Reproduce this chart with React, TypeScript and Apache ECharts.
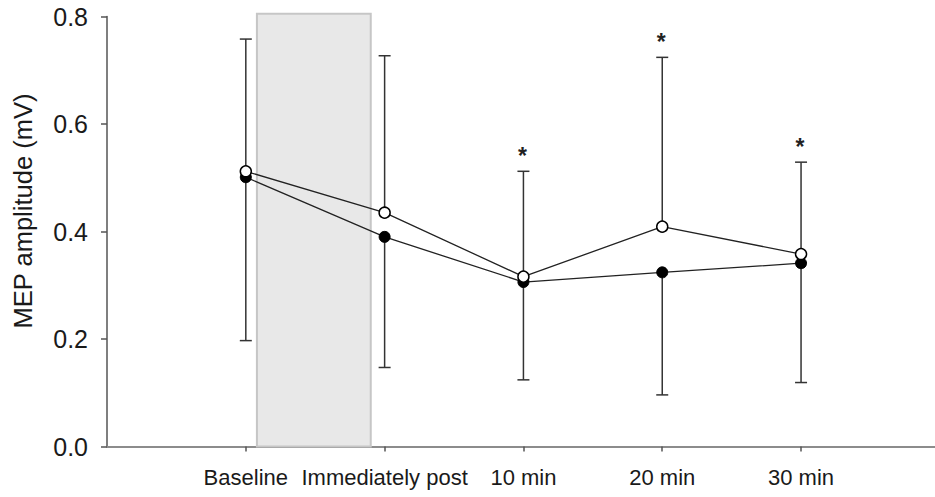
import React, { useEffect, useRef } from "react";
import * as echarts from "echarts";

const categories = ["Baseline", "Immediately post", "10 min", "20 min", "30 min"];
const filledMean = [0.501, 0.39, 0.306, 0.324, 0.341];
const openMean = [0.512, 0.435, 0.316, 0.409, 0.358];
const openUpper = [0.758, 0.727, 0.512, 0.724, 0.529];
const filledLower = [0.197, 0.147, 0.124, 0.096, 0.119];
const significance = ["", "", "*", "*", "*"];
const shadedBand = [1.08, 1.9];
const shadedTop = 0.805;
const yAxisTitle = "MEP amplitude (mV)";

const FONT = "'Liberation Sans', Arial, sans-serif";

export default function App() {
  const ref = useRef<HTMLDivElement>(null);

  useEffect(() => {
    if (!ref.current) return;
    const chart = echarts.init(ref.current, undefined, { renderer: "svg" });
    const xs = categories.map((_, i) => i + 1);

    const errorRender = (params: any, api: any) => {
      const x = api.value(0);
      const p0 = api.coord([x, api.value(1)]);
      const p1 = api.coord([x, api.value(2)]);
      const cap = 6;
      const style = { stroke: "#333", lineWidth: 1.5 };
      return {
        type: "group",
        children: [
          { type: "line", shape: { x1: p0[0], y1: p0[1], x2: p1[0], y2: p1[1] }, style },
          { type: "line", shape: { x1: p1[0] - cap, y1: p1[1], x2: p1[0] + cap, y2: p1[1] }, style },
        ],
      };
    };

    const sigIdx = significance.map((s, i) => (s ? i : -1)).filter((i) => i >= 0);

    chart.setOption({
      animation: false,
      grid: { left: 107, top: 16.5, height: 430, right: 0 },
      graphic: [
        {
          type: "text",
          x: 23,
          y: 211,
          rotation: Math.PI / 2,
          style: {
            text: yAxisTitle,
            fontSize: 25.5,
            fontFamily: FONT,
            fill: "#1a1a1a",
            align: "center",
            verticalAlign: "middle",
          },
        },
      ],
      xAxis: {
        type: "value",
        min: 0,
        max: 5.965,
        interval: 1,
        splitLine: { show: false },
        axisLine: { show: true, lineStyle: { color: "#8c8c8c", width: 2 } },
        axisTick: { show: true, length: 5, lineStyle: { color: "#555", width: 1.5 }, customValues: xs },
        axisLabel: {
          customValues: xs,
          formatter: (v: number) => categories[v - 1] ?? "",
          fontSize: 22,
          color: "#1a1a1a",
          fontFamily: FONT,
          margin: 20,
        },
      },
      yAxis: {
        type: "value",
        min: 0,
        max: 0.8,
        interval: 0.2,
        splitLine: { show: false },
        axisLine: { show: true, lineStyle: { color: "#555", width: 1.5 } },
        axisTick: { show: true, inside: false, length: 6, lineStyle: { color: "#555", width: 1.5 } },
        axisLabel: {
          formatter: (v: number) => v.toFixed(1),
          fontSize: 25,
          color: "#1a1a1a",
          fontFamily: FONT,
          margin: 19,
        },
      },
      series: [
        {
          type: "custom",
          clip: false,
          z: 1,
          data: [[shadedBand[0], shadedBand[1], shadedTop]],
          encode: { x: [0, 1], y: 2 },
          renderItem: (params: any, api: any) => {
            const a = api.coord([api.value(0), shadedTop]);
            const b = api.coord([api.value(1), 0]);
            return {
              type: "rect",
              shape: { x: a[0], y: a[1], width: b[0] - a[0], height: b[1] - a[1] },
              style: { fill: "#e8e8e8", stroke: "#c6c6c6", lineWidth: 2 },
            };
          },
        },
        {
          type: "custom",
          z: 2,
          clip: false,
          data: xs.map((x, i) => [x, openMean[i], openUpper[i]]),
          encode: { x: 0, y: [1, 2] },
          renderItem: errorRender,
        },
        {
          type: "custom",
          z: 2,
          clip: false,
          data: xs.map((x, i) => [x, filledMean[i], filledLower[i]]),
          encode: { x: 0, y: [1, 2] },
          renderItem: errorRender,
        },
        {
          type: "custom",
          z: 2,
          clip: false,
          data: sigIdx.map((i) => [xs[i], openUpper[i]]),
          encode: { x: 0, y: 1 },
          renderItem: (params: any, api: any) => {
            const p = api.coord([api.value(0), api.value(1)]);
            return {
              type: "text",
              x: p[0] - 1,
              y: p[1] - 15,
              style: {
                text: significance[sigIdx[params.dataIndex]],
                fontSize: 23,
                fontWeight: "bold",
                fontFamily: FONT,
                fill: "#222",
                align: "center",
                verticalAlign: "middle",
              },
            };
          },
        },
        {
          type: "line",
          z: 3,
          data: xs.map((x, i) => [x, filledMean[i]]),
          symbol: "circle",
          symbolSize: 11,
          lineStyle: { color: "#222", width: 1.3 },
          itemStyle: { color: "#000", borderColor: "#000", borderWidth: 1 },
        },
        {
          type: "line",
          z: 4,
          data: xs.map((x, i) => [x, openMean[i]]),
          symbol: "circle",
          symbolSize: 11,
          lineStyle: { color: "#222", width: 1.3 },
          itemStyle: { color: "#fff", borderColor: "#000", borderWidth: 1.5 },
        },
      ],
    });
    return () => chart.dispose();
  }, []);

  return (
    <div
      ref={ref}
      style={{ position: "absolute", left: 0, top: 0, width: 935, height: 497, background: "#fff" }}
    />
  );
}
